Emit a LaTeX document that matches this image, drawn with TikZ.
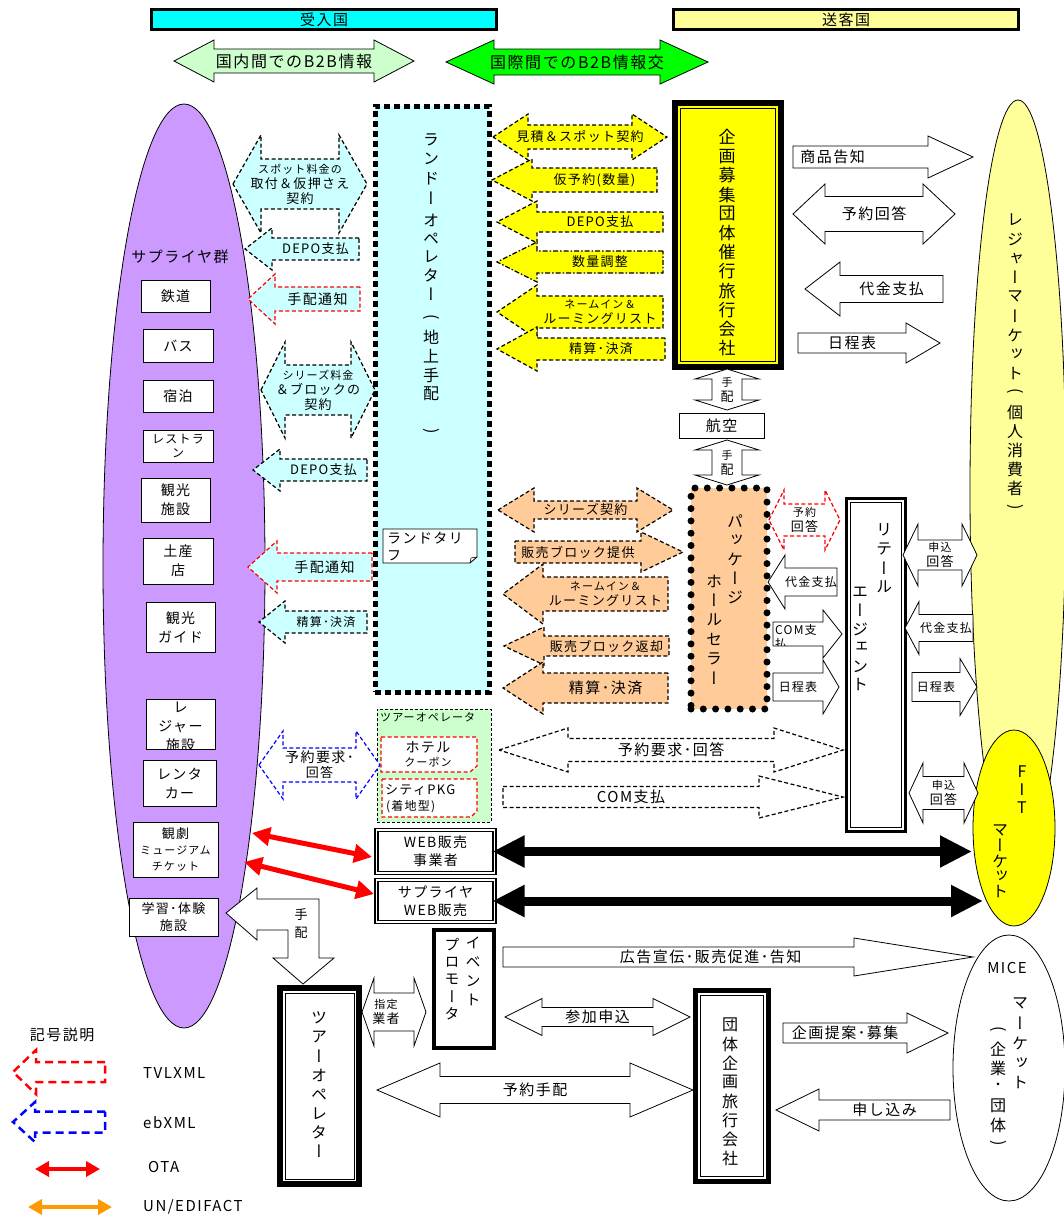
\documentclass[tikz,border=0pt]{standalone}
\usepackage{fontspec}
\setmainfont{Noto Sans CJK JP}[LetterSpace=10]
\newfontfamily\vjp{Noto Sans CJK JP}[RawFeature=+vert]
\newfontfamily\hjp{Noto Sans CJK JP}
\usetikzlibrary{arrows.meta,shapes.geometric}
\definecolor{hdrcyan}{HTML}{00FFFF}
\definecolor{hdryel}{HTML}{FFFF99}
\definecolor{lgreen}{HTML}{CCFFCC}
\definecolor{vgreen}{HTML}{00FF00}
\definecolor{lpurple}{HTML}{CC99FF}
\definecolor{lcyan}{HTML}{CCFFFF}
\definecolor{vyellow}{HTML}{FFFF00}
\definecolor{peach}{HTML}{FFCC99}
\definecolor{lyellow}{HTML}{FFFF99}
\definecolor{orng}{HTML}{FF9900}
\definecolor{vred}{HTML}{FF0000}
\definecolor{vblue}{HTML}{0000FF}
\newcommand\fsz[2]{\fontsize{#1}{#2}\selectfont}
\newcommand\vop{\rotatebox[origin=c]{-90}{\hjp (}}
\newcommand\vcl{\rotatebox[origin=c]{-90}{\hjp )}}
\newcounter{arr}
\newcounter{vt}
% right arrow: tail x, tip x, y, shaft half, head half, head length, text
\newcommand{\RArr}[8][]{\stepcounter{arr}%
 \draw[#1] (#2,{#4-#5}) -- ({#3-#7},{#4-#5}) -- ({#3-#7},{#4-#6}) -- (#3,#4) -- ({#3-#7},{#4+#6}) -- ({#3-#7},{#4+#5}) -- (#2,{#4+#5}) -- cycle;
 \node[lbl,lblx] (ar\thearr) at ({(#2+#3-#7)/2},#4) {#8};\tikzset{lblx/.style={}}}
% left arrow: tip x, tail x, ...
\newcommand{\LArr}[8][]{\stepcounter{arr}%
 \draw[#1] (#3,{#4-#5}) -- ({#2+#7},{#4-#5}) -- ({#2+#7},{#4-#6}) -- (#2,#4) -- ({#2+#7},{#4+#6}) -- ({#2+#7},{#4+#5}) -- (#3,{#4+#5}) -- cycle;
 \node[lbl,lblx] (ar\thearr) at ({(#2+#7+#3)/2},#4) {#8};\tikzset{lblx/.style={}}}
% double arrow
\newcommand{\DArr}[8][]{\stepcounter{arr}%
 \draw[#1] (#2,#4) -- ({#2+#7},{#4-#6}) -- ({#2+#7},{#4-#5}) -- ({#3-#7},{#4-#5}) -- ({#3-#7},{#4-#6}) -- (#3,#4) -- ({#3-#7},{#4+#6}) -- ({#3-#7},{#4+#5}) -- ({#2+#7},{#4+#5}) -- ({#2+#7},{#4+#6}) -- cycle;
 \node[lbl,lblx] (ar\thearr) at ({(#2+#3)/2},#4) {#8};\tikzset{lblx/.style={}}}
% vertical double arrow: x, y top tip, y bottom tip, shaft half, head half, head length
\newcommand{\VDArr}[8][]{\stepcounter{arr}%
 \draw[#1] (#2,#3) -- ({#2+#6},{#3+#7}) -- ({#2+#5},{#3+#7}) -- ({#2+#5},{#4-#7}) -- ({#2+#6},{#4-#7}) -- (#2,#4) -- ({#2-#6},{#4-#7}) -- ({#2-#5},{#4-#7}) -- ({#2-#5},{#3+#7}) -- ({#2-#6},{#3+#7}) -- cycle;
 \node[lbl] (ar\thearr) at (#2,{(#3+#4)/2}) {#8};}
% box from path corners
\newcommand{\bx}[7]{\node[inner sep=0pt, outer sep=0pt, align=center, #6, minimum width={#4-#2}, minimum height={#5-#3}] (#1) at ({(#2+#4)/2},{(#3+#5)/2}) {#7};}
\newcommand{\inln}[3]{\draw[line width=#3] ([shift={(#2,#2)}]#1.north west) rectangle ([shift={(-#2,-#2)}]#1.south east);}
% vertical text, one node per character
\newcommand{\vtext}[5][]{\stepcounter{vt}%
 \foreach \vc [count=\vi from 0] in {#5} {\node[vch,#1] (vt\thevt-\vi) at (#2,{#3+\vi*#4}) {\vc};}}
\tikzset{
 lbl/.style={inner sep=0pt, align=center, font=\fsz{13}{15}},
 lblx/.style={},
 dsh/.style={line width=1.2pt, dash pattern=on 4pt off 2.5pt},
 cyA/.style={dsh, draw=black, fill=lcyan},
 rdA/.style={dsh, draw=vred, fill=lcyan},
 ylA/.style={dsh, draw=black, fill=vyellow},
 pcA/.style={dsh, draw=black, fill=peach},
 whA/.style={draw=black, fill=white, line width=0.8pt},
 sup/.style={draw, fill=white, line width=0.9pt, font=\fsz{14}{17}},
 vch/.style={inner sep=0pt, font=\vjp\fsz{16}{16}},
}
\begin{document}
\begin{tikzpicture}[x=1pt,y=-1pt]
\useasboundingbox (0,0) rectangle (1064,1218);
\clip (0,0) rectangle (1064,1218);
\fill[white] (0,0) rectangle (1064,1218);

% ---------- header ----------
\bx{hdrA}{151.5}{9.5}{496.5}{29.5}{draw, line width=3pt, fill=hdrcyan, font=\fsz{15}{15}}{受入国}
\bx{hdrB}{673.5}{9.5}{1018.5}{29.5}{draw, line width=3pt, fill=hdryel, font=\fsz{15}{15}}{送客国}
\DArr[draw=black, line width=0.8pt, fill=lgreen]{174}{414}{61}{12}{21}{40}{\fsz{16}{16}国内間でのB2B情報}
\DArr[draw=black, line width=0.8pt, fill=vgreen]{446}{708}{62}{13}{22}{48}{\fsz{16}{16}国際間でのB2B情報交}

% ---------- ellipses ----------
\node[ellipse, draw, line width=0.8pt, fill=lpurple, minimum width=162pt, minimum height=924pt, inner sep=0pt] (supg) at (184,566) {};
\node[ellipse, draw, line width=0.8pt, fill=lyellow, minimum width=96pt, minimum height=780pt, inner sep=0pt] (leisure) at (1018,490) {};
\node[ellipse, draw, line width=0.8pt, fill=vyellow, minimum width=82pt, minimum height=196pt, inner sep=0pt] (fit) at (1014,828) {};
\node[ellipse, draw, line width=0.8pt, fill=white, minimum width=112pt, minimum height=266pt, inner sep=0pt] (mice) at (1009,1068) {};

% ---------- suppliers ----------
\node[font=\fsz{15}{15}] (supt) at (180,257) {サプライヤ群};
\bx{s1}{141}{280}{210}{312}{sup}{鉄道}
\bx{s2}{143}{329}{213}{362}{sup}{バス}
\bx{s3}{143}{430}{213}{462}{sup,font=\fsz{12}{14}}{レストラ\\ン}
\bx{s3b}{143}{380}{213}{412}{sup}{宿泊}
\bx{s5}{141}{478}{210}{522}{sup,font=\fsz{14}{19}}{観光\\施設}
\bx{s6}{143}{538}{213}{584}{sup,font=\fsz{14}{19}}{土産\\店}
\bx{s7}{146}{602}{215}{652}{sup,font=\fsz{14}{19}}{観光\\ガイド}
\bx{s8}{146}{699}{215}{749}{sup}{}
\begin{scope}
\clip (146.5,699.5) rectangle (214.5,748.5);
\node[inner sep=0pt, align=center, font=\fsz{14}{19}] (s8t) at (180.5,727) {レ\\ジャー\\施設};
\end{scope}
\bx{s9}{143}{760}{216}{806}{sup,font=\fsz{14}{19}}{レンタ\\カー}
\bx{s10}{133}{822}{218}{877}{sup,font=\fsz{11}{16}}{{\fsz{13}{15}観劇}\\ミュージアム\\チケット}
\bx{s11}{129}{898}{218}{936}{sup,font=\fsz{13}{17}}{学習･体験\\施設}

% ---------- land operator ----------
\bx{land}{375}{106}{489.5}{692}{draw, line width=5pt, dash pattern=on 6pt off 4pt, fill=lcyan}{}
\vtext{431}{140}{19.3}{ラ,ン,ド,ー}
\vtext{431}{220}{18.5}{オ,ペ,レ,タ,ー}
\vtext{431}{318}{19}{\vop,地,上,手,配,{},\vcl}
\draw[fill=white, line width=0.8pt] (383,529) -- (477,529) -- (477,557) -- (470,563) -- (383,563) -- cycle;
\draw[line width=0.6pt] (470,563) -- (471,558) -- (477,557);
\begin{scope}
\clip (383.5,529.5) rectangle (476.5,562.5);
\node[anchor=north west, inner sep=0pt, align=left, font=\fsz{14}{17}] (tariff) at (387,532) {ランドタリ\\フ};
\end{scope}

% ---------- tour operator (green) ----------
\bx{tourop}{377}{709}{491}{822}{draw, line width=1pt, dash pattern=on 3pt off 2pt, fill=lgreen}{}
\node[anchor=north west, inner sep=0pt, font=\fsz{11}{11}] (touropt) at (380,712) {ツアーオペレータ};
\draw[dsh, draw=vred, fill=white] (381,737) -- (477,737) -- (477,766) -- (470,772) -- (381,772) -- cycle;
\node[inner sep=0pt, font=\fsz{14}{14}] (hotel) at (428,747) {ホテル};
\node[inner sep=0pt, font=\fsz{11}{11}] (coupon) at (428,762) {クーポン};
\draw[dsh, draw=vred, fill=white] (382,779) -- (477,779) -- (477,811) -- (471,817) -- (382,817) -- cycle;
\node[anchor=west, inner sep=0pt, font=\fsz{13}{13}] (citypkg) at (385,790) {シティPKG};
\node[anchor=west, inner sep=0pt, font=\fsz{12}{12}] (chakuchi) at (386,807) {(着地型)};

% ---------- left (cyan) arrows ----------
\DArr[cyA]{233}{367}{184}{25}{49}{28}{\fsz{11}{14}スポット料金の\\取付＆仮押さえ\\契約}
\LArr[cyA]{245}{359}{249}{11}{21}{27}{DEPO支払}
\LArr[rdA]{248}{360}{299}{12}{25}{27}{\fsz{14}{14}手配通知}
\DArr[cyA]{261}{375}{390}{25}{48}{24}{\fsz{11}{14}シリーズ料金\\＆ブロックの\\契約}
\LArr[cyA]{253}{367}{470}{11}{21}{27}{DEPO支払}
\LArr[rdA]{248}{372}{567}{14}{26}{29}{\fsz{14}{14}手配通知}
\LArr[cyA]{259}{367}{622}{11}{21}{26}{\fsz{12}{12}精算･決済}
\DArr[dsh, draw=vblue, fill=white]{259}{380}{765}{17}{34}{24}{\fsz{14}{18}予約要求･\\回答}

% ---------- yellow arrows ----------
\DArr[ylA]{493}{667}{137}{12}{23}{35}{見積＆スポット契約}
\LArr[ylA]{492}{657}{180}{12}{21}{40}{仮予約(数量)}
\LArr[ylA]{497}{663}{222}{10}{21}{40}{DEPO支払}
\LArr[ylA, dash pattern=on 5pt off 2pt on 1.5pt off 2pt]{497}{663}{262}{11}{20}{40}{数量調整}
\LArr[ylA]{497}{663}{312}{16}{27}{40}{\fsz{11}{14}ネームイン＆\\ルーミングリスト}
\LArr[ylA]{497}{665}{349}{11}{22}{40}{精算･決済}

% ---------- planning/tour company ----------
\bx{kikaku}{675}{103}{781}{367}{draw, line width=6pt, fill=vyellow}{}
\inln{kikaku}{5.5}{0.8pt}
\vtext[font=\vjp\fsz{17}{17}]{727}{137}{19.2}{企,画,募,集,団,体,催,行,旅,行,会,社}
\VDArr[whA]{727}{369}{410}{15}{32}{10}{\fsz{11}{13}手\\配}
\bx{koku}{679}{413}{764}{438}{draw, fill=white, line width=0.8pt, font=\fsz{15}{15}}{航空}
\VDArr[whA]{727}{440}{485}{15}{32}{10}{\fsz{11}{13}手\\配}

\tikzset{lblx/.style={xshift=-28pt}}
\RArr[whA]{793}{973}{157}{11}{21}{45}{\fsz{15}{15}商品告知}
\DArr[whA]{793}{955}{214}{17.5}{30}{32}{\fsz{15}{15}予約回答}
\LArr[whA]{805}{943}{289}{13.5}{27}{35}{\fsz{15}{15}代金支払}
\RArr[whA]{798}{940}{343}{10}{20}{34}{\fsz{15}{15}日程表}

% ---------- leisure market text ----------
\vtext{1015}{220}{19.2}{レ,ジ,ャ,ー,マ,ー,ケ,ッ,ト,\vop,個,人,消,費,者,\vcl}

% ---------- package holesaler ----------
\bx{pkg}{691}{488}{767}{709}{draw, line width=7pt, dash pattern=on 0pt off 12.3pt, line cap=round, fill=peach}{}
\vtext{735}{521}{19}{パ,ッ,ケ,ー,ジ}
\vtext{714}{581}{19.5}{ホ,ー,ル,セ,ラ,ー}

\DArr[pcA]{498}{673}{510}{9}{22}{36}{シリーズ契約}
\RArr[pcA]{515}{683}{552}{11}{20}{42}{販売ブロック提供}
\LArr[pcA]{503}{668}{594}{17}{30}{40}{\fsz{11}{14}ネームイン＆\\ルーミングリスト}
\LArr[pcA]{504}{669}{646}{10}{19}{40}{販売ブロック返却}
\LArr[pcA]{503}{668}{688}{15}{26}{40}{\fsz{15}{15}精算･決済}

\DArr[dsh, draw=vred, fill=white]{769}{840}{520}{16}{30}{15}{\fsz{11}{14}予約\\回答}
\LArr[whA]{768}{837}{582}{14}{27}{17}{\fsz{12}{12}代金支払}
\RArr[whA]{773}{842}{634}{12}{24}{19}{}
\begin{scope}
\clip (773.5,622.5) rectangle (823,645.6);
\node[anchor=north west, inner sep=0pt, align=left, font=\fsz{12}{14}] (comtxt) at (775,624) {COM支\\払};
\end{scope}
\RArr[whA]{773}{839}{687}{14}{27}{16}{\fsz{12}{12}日程表}

% ---------- retail agent ----------
\bx{retail}{846.5}{498.5}{905.5}{831.5}{draw, line width=3pt, fill=white}{}
\inln{retail}{4}{1.5pt}
\vtext{884}{530}{19}{リ,テ,ー,ル}
\vtext{860}{592}{18.6}{エ,ー,ジ,ェ,ン,ト}

\DArr[whA]{903}{977}{555}{15}{31}{15}{\fsz{11}{14}申込\\回答}
\LArr[whA]{905}{973}{628}{13.5}{26.5}{14}{\fsz{12}{12}代金支払}
\RArr[whA]{912}{977}{687}{14.5}{28.5}{17}{\fsz{12}{12}日程表}
\DArr[whA]{909}{978}{793}{16.5}{30}{14}{\fsz{11}{14}申込\\回答}

% ---------- FIT text ----------
\vtext{1022}{772}{18}{F,I,T}
\vtext{1000}{830}{15.5}{マ,ー,ケ,ッ,ト}

% ---------- dashed white arrows ----------
\DArr[dsh, draw=black, fill=white]{499}{843}{750}{11.5}{22}{69}{\fsz{15}{15}予約要求･回答}
\RArr[dsh, draw=black, fill=white]{503}{843}{797}{10.5}{21}{84}{\fsz{15}{15}COM支払}

% ---------- web boxes ----------
\bx{web1}{376.5}{830}{494.5}{873}{draw, line width=1.3pt, double=white, double distance=1.5pt, fill=white, font=\fsz{14}{18}}{WEB販売\\事業者}
\bx{web2}{376.5}{880}{494.5}{922}{draw, line width=1.3pt, double=white, double distance=1.5pt, fill=white, font=\fsz{14}{18}}{サプライヤ\\WEB販売}
\coordinate (fitA) at (972,851.5);
\coordinate (fitB) at (983,901);
\draw[line width=9pt, {Triangle[length=32pt,width=30pt]}-{Triangle[length=32pt,width=30pt]}, shorten <=-2pt] (web1.east) -- (fitA);
\draw[line width=9pt, {Triangle[length=32pt,width=30pt]}-{Triangle[length=32pt,width=30pt]}, shorten <=-2pt] (web2.east) -- (fitB);
\coordinate (ota1a) at (252,833);
\coordinate (ota1b) at (372,857);
\coordinate (ota2a) at (244,862);
\coordinate (ota2b) at (374,894);
\draw[vred, line width=5pt, {Triangle[length=18pt,width=18pt]}-{Triangle[length=18pt,width=18pt]}] (ota1a) -- (ota1b);
\draw[vred, line width=5pt, {Triangle[length=18pt,width=18pt]}-{Triangle[length=18pt,width=18pt]}] (ota2a) -- (ota2b);

% ---------- bent arrow 手配 ----------
\draw[whA] (226,913) -- (257,888) -- (257,899) -- (319,899) -- (319,958) -- (334,958) -- (303,984) -- (273,958) -- (288,958) -- (288,930) -- (257,930) -- (257,940) -- cycle;
\node[lbl, font=\fsz{13}{18}] (tehai3) at (301,924) {手\\配};

% ---------- bottom ----------
\bx{tourop2}{280}{988}{359}{1184}{draw, line width=5.5pt, fill=white}{}
\inln{tourop2}{5}{0.8pt}
\vtext{319}{1018}{19.1}{ツ,ア,ー,オ,ペ,レ,タ,ー}
\tikzset{lblx/.style={xshift=-8pt}}
\DArr[whA]{362}{426}{1012}{19}{34}{12}{\fsz{11}{14}指定\\業者}
\bx{event}{434}{930}{494}{1048}{draw, line width=4pt, fill=white}{}
\vtext[font=\vjp\fsz{15}{15}]{473}{943}{19}{イ,ベ,ン,ト}
\vtext[font=\vjp\fsz{15}{15}]{452}{945}{17.3}{プ,ロ,モ,ー,タ}
\tikzset{lblx/.style={xshift=32pt}}
\RArr[whA]{503}{973}{957}{10}{19}{119}{\fsz{15}{15}広告宣伝･販売促進･告知}
\DArr[whA]{505}{690}{1017}{9.5}{18.5}{37}{\fsz{15}{15}参加申込}
\DArr[whA]{377}{693}{1090}{13.5}{27}{63}{\fsz{15}{15}予約手配}
\bx{dantai}{695}{990}{768}{1181}{draw, line width=5pt, fill=white}{}
\inln{dantai}{5}{0.8pt}
\vtext{730}{1025}{19}{団,体,企,画,旅,行,会,社}
\RArr[whA]{783}{948}{1033}{10}{20}{41}{\fsz{15}{15}企画提案･募集}
\LArr[whA]{776}{950}{1110}{10}{21}{43}{\fsz{15}{15}申し込み}

% ---------- MICE text ----------
\node[inner sep=0pt, font=\fsz{15}{15}] (micet) at (1007,968) {MICE};
\vtext{1020}{1003}{20}{マ,ー,ケ,ッ,ト}
\vtext{998}{1030}{19}{\vop,企,業,･,団,体,\vcl}

% ---------- legend ----------
\node[inner sep=0pt, font=\fsz{15}{15}] (legt) at (62,1035) {記号説明};
\LArr[line width=2.5pt, dash pattern=on 8pt off 5pt, draw=vred]{13}{105}{1072}{10}{22}{23}{}
\node[anchor=west, inner sep=0pt, font=\fsz{15}{15}] (legA) at (143,1073) {TVLXML};
\LArr[line width=2.5pt, dash pattern=on 8pt off 5pt, draw=vblue]{13}{105}{1122}{10.5}{20}{22}{}
\node[anchor=west, inner sep=0pt, font=\fsz{15}{15}] (legB) at (143,1123) {ebXML};
\coordinate (otaL) at (35,1169);
\coordinate (otaR) at (100,1169);
\draw[vred, line width=4pt, {Triangle[length=14pt,width=15pt]}-{Triangle[length=14pt,width=15pt]}] (otaL) -- (otaR);
\node[anchor=west, inner sep=0pt, font=\fsz{15}{15}] (legC) at (148,1167) {OTA};
\coordinate (unL) at (28,1207);
\coordinate (unR) at (112,1207);
\draw[orng, line width=4pt, {Triangle[length=14pt,width=15pt]}-{Triangle[length=14pt,width=15pt]}] (unL) -- (unR);
\node[anchor=west, inner sep=0pt, font=\fsz{15}{15}] (legD) at (143,1207) {UN/EDIFACT};
\end{tikzpicture}
\end{document}
